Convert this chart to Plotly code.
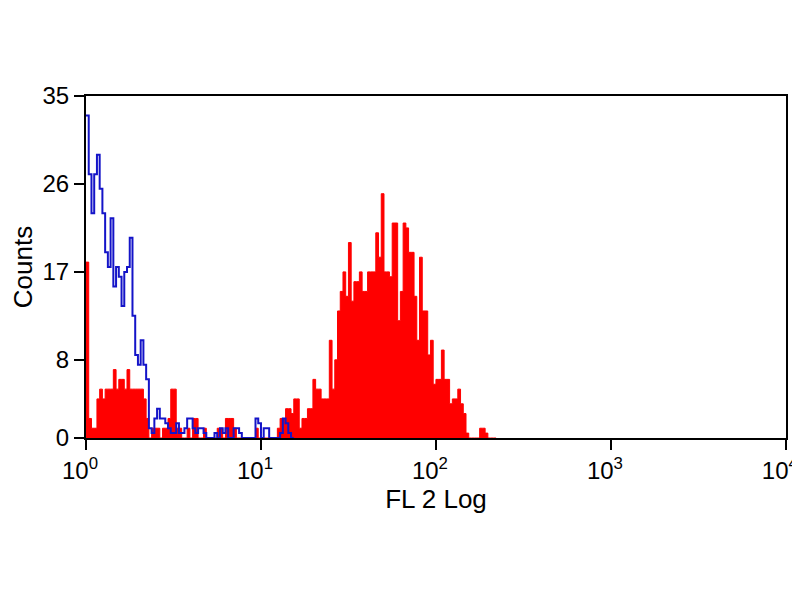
import plotly.graph_objects as go

# 直方图通道数据（256 通道, 4 个对数十倍程）
N_CHANNELS = 256
DECADE_TICKS = [0, 64, 128, 192, 256]
DECADE_LABELS = ['10<sup>0</sup>', '10<sup>1</sup>', '10<sup>2</sup>', '10<sup>3</sup>', '10<sup>4</sup>']
Y_TICKS = [0, 8, 17, 26, 35]

# 蓝色 (对照) 每个通道的计数
blue_counts = [
    33, 27, 23, 27, 29, 25.5, 23, 19, 17.5, 22.5,
    15.5, 17.5, 16.5, 13.5, 17, 17.5, 20.5, 12.5, 8.5, 7.5,
    10, 7.5, 6, 1, 0.5, 2, 3, 2, 2, 1.5,
    1, 0.5, 0.5, 1.5, 0.5, 0.5, 1, 2, 2, 1,
    0.5, 1, 1, 0.5, 0, 0, 0, 0.5, 0, 1,
    0.5, 1, 0, 0, 1, 1, 0.5, 0, 0, 0,
    0, 0, 2, 1.5, 0, 1, 1, 0, 0, 0,
    0, 0.5, 2, 1.5, 0.5, 0,
]

# 红色 (样本) 每个通道的计数
red_counts = [
    18, 2, 1, 1, 4, 5, 4, 5, 5, 5,
    7, 5, 6, 6, 5, 7, 5, 5, 5, 5,
    5, 4, 2, 0, 1, 1, 1, 0, 1, 1,
    2, 5, 5, 1, 1, 0, 0, 1, 0, 2,
    2, 0, 0, 1, 0, 0, 0, 0, 1, 1,
    0, 2, 2, 2, 1, 0, 0, 0, 0, 0,
    0, 0, 1, 0, 0, 0, 0, 0, 0, 0,
    1, 2, 2, 3, 3, 2.5, 4, 4, 1, 2,
    2, 3, 3, 6, 5, 5, 4, 4, 4, 10,
    5, 8, 13, 15, 17, 14.5, 20, 14, 16, 16,
    17, 15, 15, 17, 17, 17, 21, 18.5, 25, 17,
    17, 16.5, 22, 22, 12, 15, 22, 21.5, 19, 19,
    14.5, 10, 18.5, 13, 13, 8.5, 10, 5.5, 6, 6,
    9, 6, 6, 3.5, 4, 4, 5, 3.5, 2.5, 0.5,
    0, 0, 0, 0, 1, 1, 0.5, 0, 0, 0,
]


def step_xy(counts):
    # 每个通道左边界 + 末尾闭合点
    xs = list(range(len(counts))) + [len(counts)]
    ys = list(counts) + [0]
    return xs, ys


fig = go.Figure()

rx, ry = step_xy(red_counts)
fig.add_trace(go.Scatter(
    x=rx, y=ry,
    mode='lines',
    line=dict(color='#ff0000', width=1, shape='hv'),
    fill='tozeroy',
    fillcolor='#ff0000',
    showlegend=False,
))

bx, by = step_xy(blue_counts)
fig.add_trace(go.Scatter(
    x=bx, y=by,
    mode='lines',
    line=dict(color='#1414c8', width=2, shape='hv'),
    showlegend=False,
))

tick_font = dict(family='Liberation Sans, Arial, sans-serif', size=24, color='black')
ytitle_font = dict(family='Liberation Sans, Arial, sans-serif', size=26, color='black')
xtitle_font = dict(family='Liberation Sans, Arial, sans-serif', size=26, color='black')

# 页面有 8px 边距，边距按此补偿
fig.update_layout(
    width=800,
    height=600,
    paper_bgcolor='white',
    plot_bgcolor='white',
    margin=dict(l=78, r=22, t=88, b=170),
    font=tick_font,
    xaxis=dict(
        range=[0, N_CHANNELS + 0.05],
        tickmode='array',
        tickvals=DECADE_TICKS,
        ticktext=DECADE_LABELS,
        ticks='outside',
        ticklen=10,
        tickwidth=2,
        tickcolor='black',
        showline=True,
        linecolor='black',
        linewidth=2,
        mirror=True,
        showgrid=False,
        zeroline=False,
        automargin=False,
        ticklabeloverflow='allow',
        ticklabelshift=-6,
        tickfont=tick_font,
        title=dict(text='FL 2 Log', font=xtitle_font, standoff=0),
    ),
    yaxis=dict(
        range=[0, 35],
        tickmode='array',
        tickvals=Y_TICKS,
        ticks='outside',
        ticklen=10,
        tickwidth=2,
        tickcolor='black',
        showline=True,
        linecolor='black',
        linewidth=2,
        mirror=True,
        showgrid=False,
        zeroline=False,
        automargin=False,
        ticklabeloverflow='allow',
        tickfont=tick_font,
        title=dict(text='Counts', font=ytitle_font, standoff=8),
    ),
)

fig.write_html('out.html')
